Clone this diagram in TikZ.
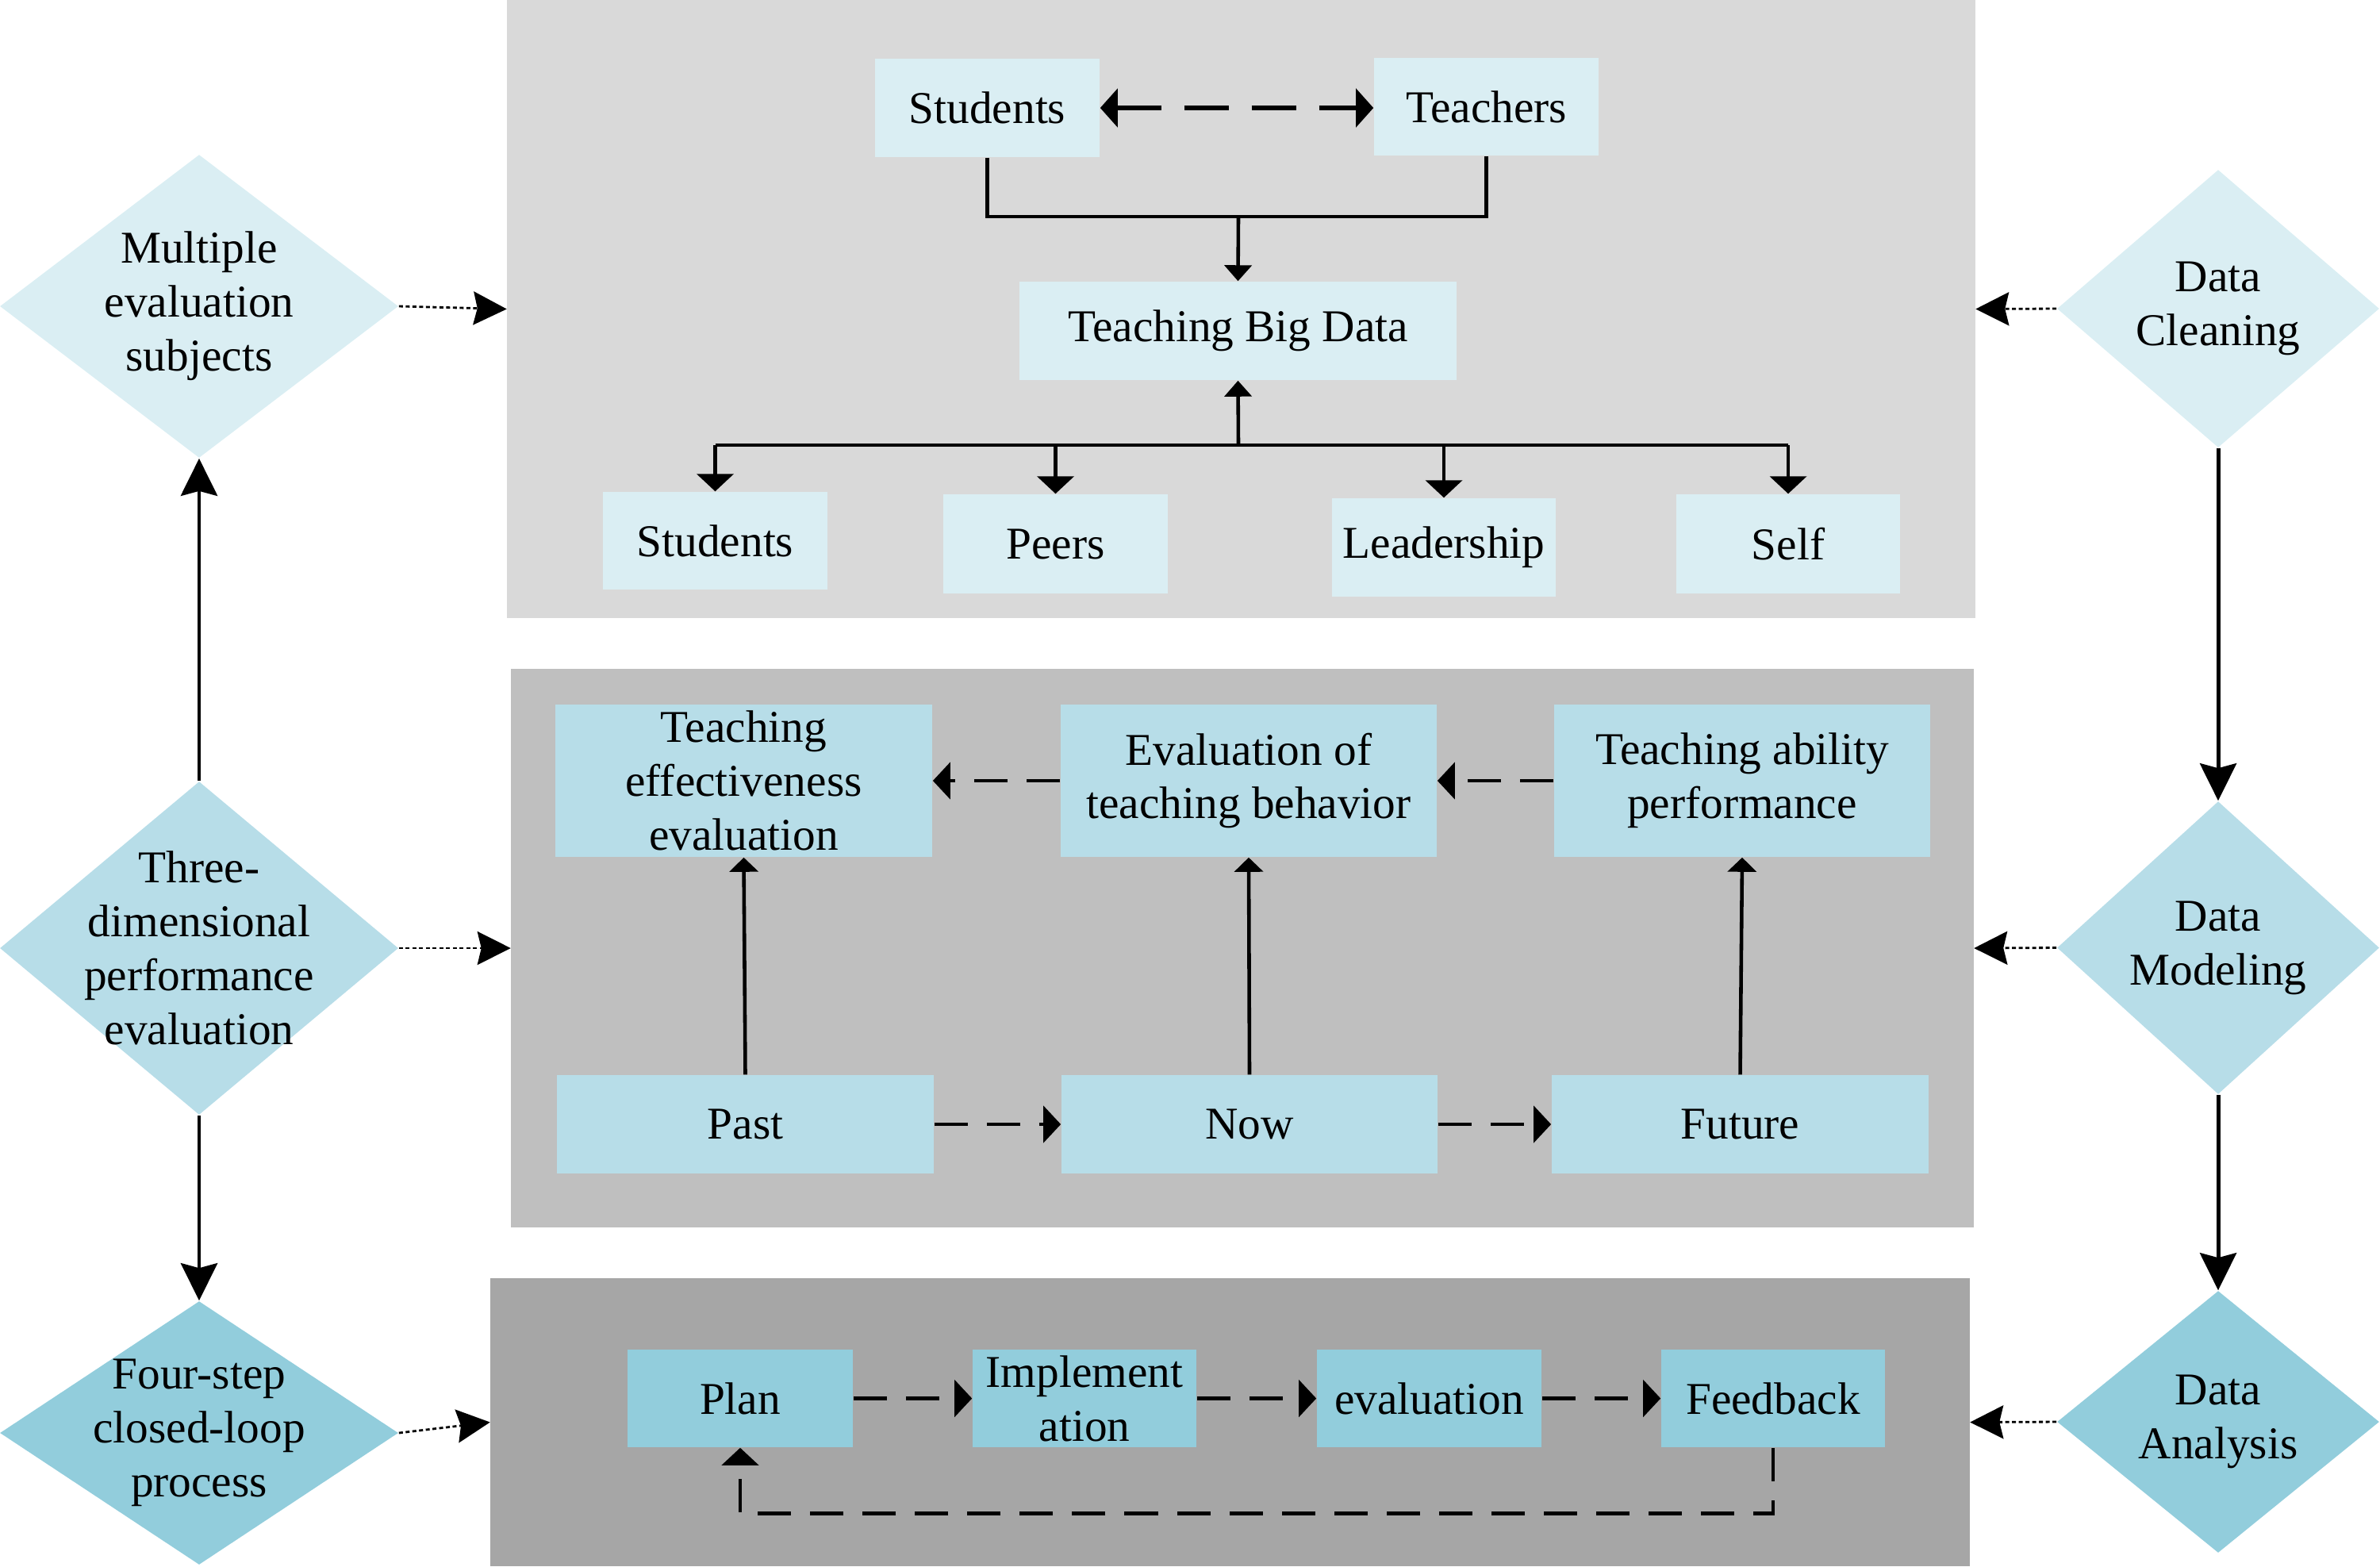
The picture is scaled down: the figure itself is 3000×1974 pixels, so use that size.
\documentclass[tikz,border=0pt]{standalone}
\usepackage{fontspec}
\setmainfont{Liberation Serif}
\usetikzlibrary{shapes.geometric,arrows.meta}
\definecolor{panelA}{HTML}{D9D9D9}
\definecolor{panelB}{HTML}{BFBFBF}
\definecolor{panelC}{HTML}{A6A6A6}
\definecolor{boxA}{HTML}{DAEEF3}
\definecolor{boxB}{HTML}{B7DDE8}
\definecolor{boxC}{HTML}{92CDDC}
\begin{document}
\begin{tikzpicture}[x=0.01cm,y=-0.01cm,
  txt/.style={font=\fontsize{16.3}{19.3}\selectfont, align=center, inner sep=0pt},
  panel/.style={rectangle, inner sep=0pt, draw=none},
  box/.style={rectangle, inner sep=0pt, draw=none, txt},
  dshape/.style={diamond, inner sep=0pt, draw=none},
  solidarrow/.style={line width=1.4pt, -{Stealth[length=0.47cm,width=0.46cm,inset=0.06cm]}},
  smallarrow/.style={line width=1.3pt, -{Triangle[length=0.22cm,width=0.46cm]}},
  uparrow/.style={line width=1.3pt, -{Triangle[length=0.18cm,width=0.36cm]}},
  conn/.style={line width=1.3pt},
  dasharrow/.style={line width=1.4pt, dash pattern=on 0.42cm off 0.24cm, -{Triangle[length=0.22cm,width=0.46cm]}},
  dotarrow/.style={line width=0.8pt, dash pattern=on 0.05cm off 0.035cm, -{Stealth[length=0.42cm,width=0.42cm,inset=0.05cm]}}
]
\useasboundingbox (0,0) rectangle (3000,1974);

% panels
\node[panel, fill=panelA, minimum width=18.49cm, minimum height=7.79cm] (p1) at (1564.5,389.5) {};
\node[panel, fill=panelB, minimum width=18.42cm, minimum height=7.04cm] (p2) at (1566,1195) {};
\node[panel, fill=panelC, minimum width=18.63cm, minimum height=3.63cm] (p3) at (1550.5,1792.5) {};

% left diamonds
\node[dshape, fill=boxA, minimum width=5.02cm, minimum height=3.82cm] (d1) at (251,386) {};
\node[txt] (d1t) at (d1) {Multiple\\evaluation\\subjects};
\node[dshape, fill=boxB, minimum width=5.02cm, minimum height=4.20cm] (d2) at (251,1195) {};
\node[txt] (d2t) at (d2) {Three-\\dimensional\\performance\\evaluation};
\node[dshape, fill=boxC, minimum width=5.02cm, minimum height=3.32cm] (d3) at (251,1806) {};
\node[txt] (d3t) at (d3) {Four-step\\closed-loop\\process};

% right diamonds
\node[dshape, fill=boxA, minimum width=4.06cm, minimum height=3.50cm] (r1) at (2796,389) {};
\node[txt] (r1t) at (r1) {Data\\Cleaning};
\node[dshape, fill=boxB, minimum width=4.06cm, minimum height=3.69cm] (r2) at (2796,1194.5) {};
\node[txt] (r2t) at (r2) {Data\\Modeling};
\node[dshape, fill=boxC, minimum width=4.06cm, minimum height=3.30cm] (r3) at (2796,1792) {};
\node[txt] (r3t) at (r3) {Data\\Analysis};

% top panel boxes
\node[box, fill=boxA, minimum width=2.83cm, minimum height=1.24cm] (stuT) at (1244.5,136) {Students};
\node[box, fill=boxA, minimum width=2.83cm, minimum height=1.23cm] (tea) at (1873.5,134.5) {Teachers};
\node[box, fill=boxA, minimum width=5.51cm, minimum height=1.24cm] (tbd) at (1560.5,417) {Teaching Big Data};
\node[box, fill=boxA, minimum width=2.83cm, minimum height=1.23cm] (stuB) at (901.5,681.5) {Students};
\node[box, fill=boxA, minimum width=2.83cm, minimum height=1.25cm] (peers) at (1330.5,685.5) {Peers};
\node[box, fill=boxA, minimum width=2.82cm, minimum height=1.24cm] (lead) at (1820,690) {Leadership};
\node[box, fill=boxA, minimum width=2.82cm, minimum height=1.25cm] (self) at (2254,685.5) {Self};

% middle panel boxes
\node[box, fill=boxB, minimum width=4.75cm, minimum height=1.92cm] (te) at (937.5,984) {Teaching\\effectiveness\\evaluation};
\node[box, fill=boxB, minimum width=4.74cm, minimum height=1.92cm] (eb) at (1574,984) {Evaluation of\\teaching behavior};
\node[box, fill=boxB, minimum width=4.74cm, minimum height=1.92cm] (tap) at (2196,984) {Teaching ability\\performance};
\node[box, fill=boxB, minimum width=4.75cm, minimum height=1.24cm] (past) at (939.5,1417) {Past};
\node[box, fill=boxB, minimum width=4.74cm, minimum height=1.24cm] (now) at (1575,1417) {Now};
\node[box, fill=boxB, minimum width=4.75cm, minimum height=1.24cm] (fut) at (2193.5,1417) {Future};

% bottom panel boxes
\node[box, fill=boxC, minimum width=2.84cm, minimum height=1.23cm] (plan) at (933,1762.5) {Plan};
\node[box, fill=boxC, minimum width=2.82cm, minimum height=1.23cm] (impl) at (1367,1762.5) {Implement\\ation};
\node[box, fill=boxC, minimum width=2.83cm, minimum height=1.23cm] (evl) at (1801.5,1762.5) {evaluation};
\node[box, fill=boxC, minimum width=2.82cm, minimum height=1.23cm] (fb) at (2235,1762.5) {Feedback};

% dotted arrows to panels
\draw[dotarrow] (d1.east) -- (p1.west);
\draw[dotarrow] (d2.east) -- (p2.west);
\draw[dotarrow] (d3.east) -- (p3.west);
\draw[dotarrow] (r1.west) -- (p1.east);
\draw[dotarrow] (r2.west) -- (p2.east);
\draw[dotarrow] (r3.west) -- (p3.east);

% solid diamond chain
\draw[solidarrow] (d2.north) -- (d1.south);
\draw[solidarrow] (d2.south) -- (d3.north);
\draw[solidarrow] (r1.south) -- (r2.north);
\draw[solidarrow] (r2.south) -- (r3.north);

% top panel connectors
\draw[line width=1.5pt, dash pattern=on 0.56cm off 0.29cm, {Triangle[length=0.22cm,width=0.48cm]}-{Triangle[length=0.22cm,width=0.48cm]}] (stuT.east) -- (stuT.east -| tea.west);
\coordinate (j1) at (1561,273);
\coordinate (j2) at (1561,561);
\draw[conn] (stuT.south) |- (j1) -| (tea.south);
\draw[line width=1.3pt, -{Triangle[length=0.2cm,width=0.34cm]}] (j1) -- (tbd.north);
\draw[line width=1.3pt, -{Triangle[length=0.2cm,width=0.34cm]}] (j2) -- (tbd.south);
\draw[conn] (stuB.north |- j2) -- (self.north |- j2);
\draw[smallarrow] (stuB.north |- j2) -- (stuB.north);
\draw[smallarrow] (peers.north |- j2) -- (peers.north);
\draw[smallarrow] (lead.north |- j2) -- (lead.north);
\draw[smallarrow] (self.north |- j2) -- (self.north);

% middle panel connectors
\draw[dasharrow] (eb.west) -- (te.east);
\draw[dasharrow] (tap.west) -- (eb.east);
\draw[dasharrow] (past.east) -- (now.west);
\draw[dasharrow] (now.east) -- (fut.west);
\draw[uparrow] (past.north) -- (te.south);
\draw[uparrow] (now.north) -- (eb.south);
\draw[uparrow] (fut.north) -- (tap.south);

% bottom panel connectors
\draw[dasharrow] (plan.east) -- (impl.west);
\draw[dasharrow] (impl.east) -- (evl.west);
\draw[dasharrow] (evl.east) -- (fb.west);
\draw[dasharrow] (fb.south) -- ++(0,83) -| (plan.south);
\end{tikzpicture}
\end{document}
